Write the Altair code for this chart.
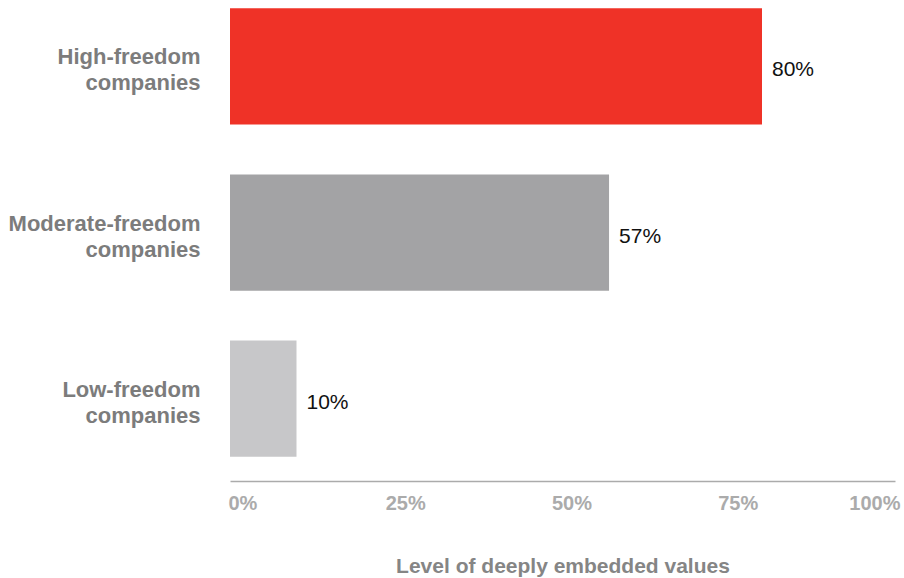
import altair as alt
import pandas as pd

categories = ["High-freedom companies", "Moderate-freedom companies", "Low-freedom companies"]
values = [80, 57, 10]
labels = ["80%", "57%", "10%"]
colors = ["#EF3227", "#A3A3A5", "#C7C7C9"]

df = pd.DataFrame({"cat": categories, "val": values, "lab": labels})

FONT = "Liberation Sans"

y = alt.Y("cat:N", sort=categories, title=None,
          scale=alt.Scale(paddingInner=0.3, paddingOuter=0.05),
          axis=alt.Axis(domain=False, ticks=False, labelPadding=30,
                        labelExpr="split(datum.label, ' ')",
                        labelFont=FONT, labelFontSize=22, labelFontWeight="bold",
                        labelColor="#7C7C7C", labelLineHeight=26, labelLimit=300,
                        labelOffset=-9))

x = alt.X("val:Q", title="Level of deeply embedded values",
          scale=alt.Scale(domain=[0, 100], nice=False),
          axis=alt.Axis(values=[0, 25, 50, 75, 100], format=".0f",
                        labelExpr="datum.value + '%'",
                        grid=False, ticks=False, offset=16,
                        domainColor="#ABABAB", domainWidth=1.5,
                        labelFont=FONT, labelFontSize=20, labelFontWeight="bold",
                        labelColor="#ABABAB", labelPadding=12,
                        labelAlign={"condition": [{"test": "datum.value == 0", "value": "left"},
                                                  {"test": "datum.value == 100", "value": "right"}],
                                    "value": "center"},
                        labelOffset={"condition": [{"test": "datum.value == 0", "value": -2},
                                                   {"test": "datum.value == 100", "value": 5}],
                                     "value": 9},
                        titleFont=FONT, titleFontSize=21, titleFontWeight="bold",
                        titleColor="#858585", titlePadding=42))

bars = alt.Chart(df).mark_bar().encode(
    x=x, y=y,
    color=alt.Color("cat:N", scale=alt.Scale(domain=categories, range=colors), legend=None),
)

text = alt.Chart(df).mark_text(align="left", dx=10, dy=4, font=FONT, fontSize=21, color="#111111").encode(
    x="val:Q", y=alt.Y("cat:N", sort=categories), text="lab:N"
)

chart = (bars + text).properties(
    width=665, height=465,
    autosize=alt.AutoSizeParams(type="none"),
    padding={"left": 230, "top": 0, "right": 9, "bottom": 113},
).configure_view(stroke=None)

chart.save("out.html", embed_options={"renderer": "svg", "actions": False})
